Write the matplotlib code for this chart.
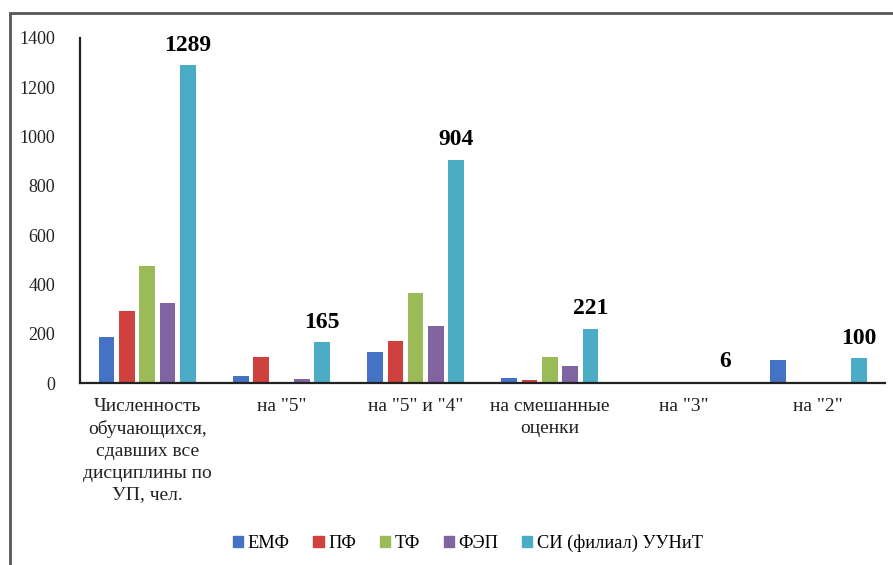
import matplotlib.pyplot as plt
import numpy as np
from matplotlib.patches import Rectangle, Patch

plt.rcParams['font.family'] = ['Liberation Serif', 'DejaVu Serif']

categories = ['Численность\nобучающихся,\nсдавших все\nдисциплины по\nУП, чел.',
              'на "5"', 'на "5" и "4"', 'на смешанные\nоценки', 'на "3"', 'на "2"']
series = ['ЕМФ', 'ПФ', 'ТФ', 'ФЭП', 'СИ (филиал) УУНиТ']
emf = [187, 28, 126, 20, 0, 95]
pf = [292, 106, 170, 12, 0, 0]
tf = [475, 0, 365, 106, 0, 0]
fep = [325, 16, 232, 69, 0, 0]
si = [1289, 165, 904, 221, 6, 100]
colors = ['#4472C4', '#D0403C', '#9BBB59', '#8064A2', '#4BACC6']

values = [emf, pf, tf, fep, si]

fig = plt.figure(figsize=[8.93, 5.65], dpi=100)
ax = fig.add_axes([0.0896, 0.322, 0.902, 0.611])

x = np.arange(len(categories))
slot = 0.151
width = 0.117
for i, (vals, c) in enumerate(zip(values, colors)):
    ax.bar(x + (i - 2) * slot, vals, width=width, color=c, label=series[i])

# подписи значений над столбцами СИ
for xi, v in zip(x, si):
    ax.annotate(str(v), (xi + 2 * slot, v), xytext=(0, 7), textcoords='offset points',
                ha='center', va='bottom', fontsize=17, fontweight='bold')

ax.set_xlim(-0.5, len(categories) - 0.5)
ax.set_ylim(0, 1400)
ax.set_yticks(range(0, 1401, 200))
ax.set_xticks(x)
ax.set_xticklabels(categories, fontsize=14, linespacing=1.36)
ax.tick_params(axis='both', length=0, colors='#222222')
ax.tick_params(axis='y', pad=18, labelsize=13)
ax.tick_params(axis='x', pad=11)
for s in ['top', 'right']:
    ax.spines[s].set_visible(False)
for s in ['left', 'bottom']:
    ax.spines[s].set_linewidth(1.6)
    ax.spines[s].set_color('#222222')

handles = [Patch(color=c) for c in colors]
fig.legend(handles, series, loc='center', bbox_to_anchor=(0.524, 0.039), ncol=5,
           frameon=False, fontsize=13.2, handlelength=0.55, handleheight=0.55,
           handletextpad=0.25, columnspacing=1.3)

fig.patches.append(Rectangle((0.011, -0.01), 1.0, 0.987, transform=fig.transFigure,
                             fill=False, edgecolor='#555555', linewidth=2))

fig.savefig('out.png', dpi=100)
